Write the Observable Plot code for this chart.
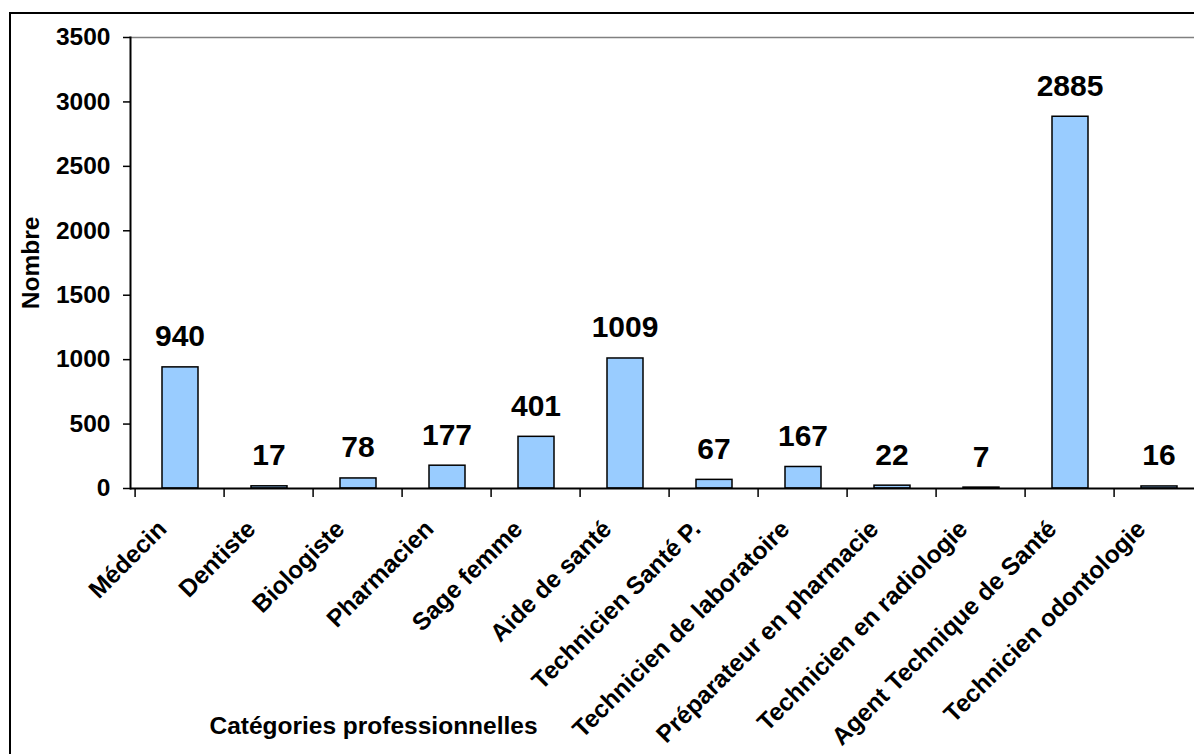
<!DOCTYPE html>
<html>
<head>
<meta charset="utf-8">
<script src="https://cdn.jsdelivr.net/npm/d3@7"></script>
<script src="https://cdn.jsdelivr.net/npm/@observablehq/plot@0.6"></script>
<style>
  html, body { margin: 0; padding: 0; background: #fff; overflow: hidden; width: 1194px; height: 754px; }
  #frame { position: absolute; left: 9px; top: 12px; width: 1400px; height: 1000px; border: 2px solid #000; box-sizing: border-box; }
  #chart { position: absolute; left: 0; top: 0; }
  #chart svg { overflow: visible; }
</style>
</head>
<body>
<div id="frame"></div>
<div id="chart"></div>
<script>
const categories = ["Médecin", "Dentiste", "Biologiste", "Pharmacien", "Sage femme", "Aide de santé",
  "Technicien Santé P.", "Technicien de laboratoire", "Préparateur en pharmacie",
  "Technicien en radiologie", "Agent Technique de Santé", "Technicien odontologie"];
const values = [940, 17, 78, 177, 401, 1009, 67, 167, 22, 7, 2885, 16];
const yTicks = [0, 500, 1000, 1500, 2000, 2500, 3000, 3500];
const yLabel = "Nombre";
const xLabel = "Catégories professionnelles";

const data = categories.map((c, i) => ({cat: c, value: values[i]}));
const font = "'Liberation Sans', Arial, Helvetica, sans-serif";
const fs = 24.5;

const chart = Plot.plot({
  width: 1194,
  height: 754,
  marginLeft: 130,
  marginTop: 37,
  marginBottom: 266,
  marginRight: 0,
  style: {fontFamily: font, fontWeight: "bold", fontSize: fs + "px", background: "transparent", color: "#000"},
  x: {domain: categories, range: [130, 130 + 12 * 89.8], padding: 0, axis: null},
  y: {domain: [0, 3500], axis: null},
  marks: [
    Plot.frame({anchor: "top", stroke: "#808080", strokeWidth: 1.5}),
    Plot.barY(data, {x: "cat", y: "value", fill: "#99CCFF", stroke: "#000", strokeWidth: 1.5, insetLeft: 27, insetRight: 26}),
    Plot.frame({anchor: "left", stroke: "#000", strokeWidth: 2}),
    Plot.ruleY([0], {stroke: "#000", strokeWidth: 2}),
    Plot.axisY({ticks: yTicks, tickSize: 7, tickPadding: 13, tickFormat: d => String(d), fontSize: fs, fontWeight: "bold", stroke: "#000", strokeWidth: 1.5, label: null}),
    Plot.axisX({ticks: categories, tickSize: 9, tickFormat: () => "", dx: -44.9, stroke: "#000", strokeWidth: 1.5, label: null}),
    Plot.text(categories, {x: d => d, frameAnchor: "bottom", dx: -12, dy: 42, rotate: -45, textAnchor: "end", lineAnchor: "bottom", fontSize: fs, fontWeight: "bold", fill: "#000"}),
    Plot.text(data, {x: "cat", y: "value", text: d => String(d.value), dy: -21, lineAnchor: "bottom", fontSize: 30, fontWeight: "bold", fill: "#000"}),
    Plot.text([yLabel], {frameAnchor: "left", dx: -99, rotate: -90, textAnchor: "middle", fontSize: fs, fontWeight: "bold", fill: "#000"}),
    Plot.text([xLabel], {frameAnchor: "bottom-left", dx: 243, dy: 245, textAnchor: "middle", fontSize: fs, fontWeight: "bold", fill: "#000"})
  ]
});
document.getElementById("chart").appendChild(chart);
</script>
</body>
</html>
